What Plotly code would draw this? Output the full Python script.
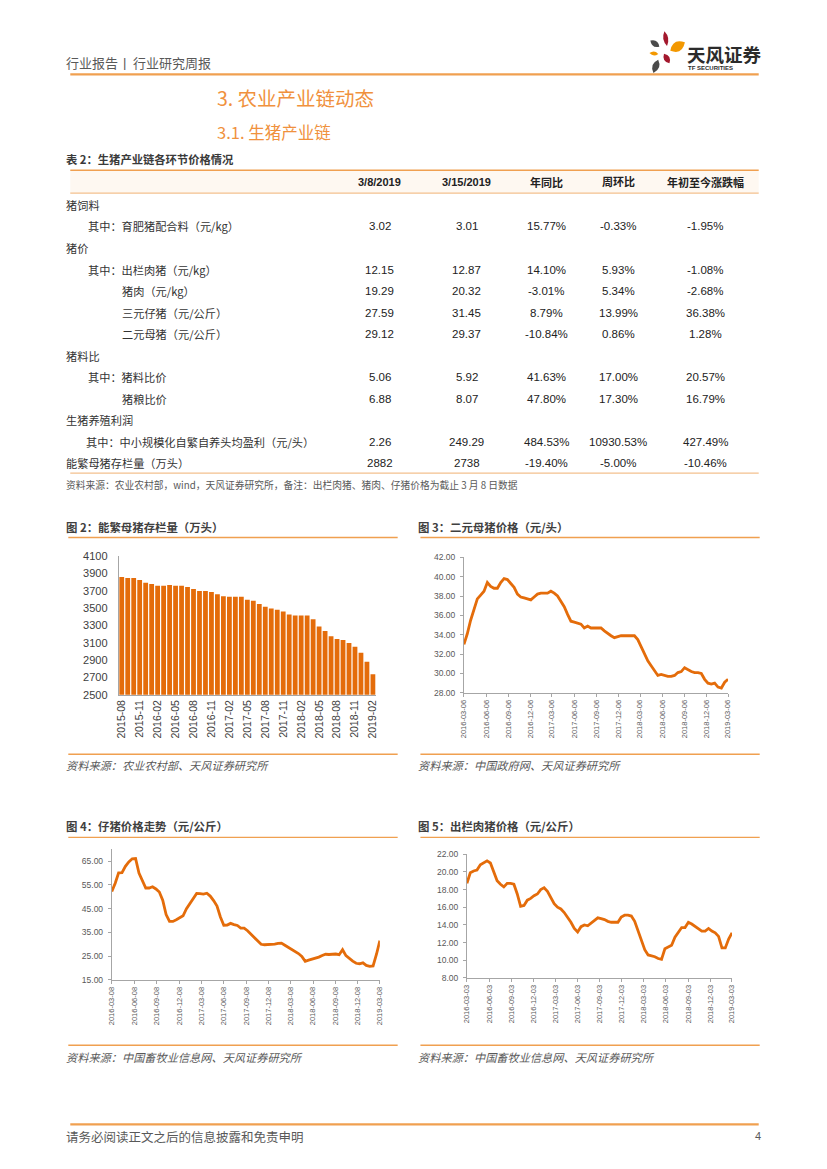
import math
import pandas as pd
import plotly.graph_objects as go

W, H = 827, 1169


def X(px):
    return px / W


def Y(py):
    return 1 - py / H


# ------------------------------------------------------------------ data
table_cols = ["3/8/2019", "3/15/2019", "年同比", "周环比", "年初至今涨跌幅"]
table_rows = ["猪饲料", "其中：育肥猪配合料（元/kg）", "猪价", "其中：出栏肉猪（元/kg）",
              "猪肉（元/kg）", "三元仔猪（元/公斤）", "二元母猪（元/公斤）", "猪料比",
              "其中：猪料比价", "猪粮比价", "生猪养殖利润",
              "其中：中小规模化自繁自养头均盈利（元/头）", "能繁母猪存栏量（万头）"]
row_level = [0, 1, 0, 1, 2, 2, 2, 0, 1, 2, 0, 1, 0]
col_0308 = ["", "3.02", "", "12.15", "19.29", "27.59", "29.12", "", "5.06", "6.88", "", "2.26", "2882"]
col_0315 = ["", "3.01", "", "12.87", "20.32", "31.45", "29.37", "", "5.92", "8.07", "", "249.29", "2738"]
col_yoy = ["", "15.77%", "", "14.10%", "-3.01%", "8.79%", "-10.84%", "", "41.63%", "47.80%", "", "484.53%", "-19.40%"]
col_wow = ["", "-0.33%", "", "5.93%", "5.34%", "13.99%", "0.86%", "", "17.00%", "17.30%", "", "10930.53%", "-5.00%"]
col_ytd = ["", "-1.95%", "", "-1.08%", "-2.68%", "36.38%", "1.28%", "", "20.57%", "16.79%", "", "427.49%", "-10.46%"]

# 图2 能繁母猪存栏量（万头）
sow_months = ["2015-08", "2015-09", "2015-10", "2015-11", "2015-12", "2016-01", "2016-02", "2016-03",
              "2016-04", "2016-05", "2016-06", "2016-07", "2016-08", "2016-09", "2016-10", "2016-11",
              "2016-12", "2017-01", "2017-02", "2017-03", "2017-04", "2017-05", "2017-06", "2017-07",
              "2017-08", "2017-09", "2017-10", "2017-11", "2017-12", "2018-01", "2018-02", "2018-03",
              "2018-04", "2018-05", "2018-06", "2018-07", "2018-08", "2018-09", "2018-10", "2018-11",
              "2018-12", "2019-01", "2019-02"]
sow_stock = [3860, 3848, 3848, 3825, 3794, 3779, 3760, 3760, 3768, 3760, 3760, 3745, 3722, 3700,
             3700, 3689, 3663, 3640, 3632, 3632, 3632, 3597, 3586, 3550, 3518, 3496, 3484, 3463,
             3429, 3417, 3417, 3417, 3372, 3290, 3236, 3178, 3145, 3133, 3100, 3055, 2985, 2882, 2738]
sow_ticks = ["2015-08", "2015-11", "2016-02", "2016-05", "2016-08", "2016-11", "2017-02", "2017-05",
             "2017-08", "2017-11", "2018-02", "2018-05", "2018-08", "2018-11", "2019-02"]

# 图3 二元母猪价格
gilt_start, gilt_end = "2016-03-06", "2019-03-06"
gilt_price = [33.0, 34.1, 35.5, 36.6, 37.7, 38.1, 38.5, 39.4, 39.0, 38.8, 38.8, 39.4, 39.8, 39.7,
              39.3, 38.9, 38.2, 37.9, 37.8, 37.7, 37.6, 37.9, 38.2, 38.3, 38.3, 38.3, 38.5, 38.3,
              38.0, 37.5, 36.9, 36.1, 35.4, 35.3, 35.2, 35.1, 34.7, 34.9, 34.7, 34.7, 34.7, 34.7,
              34.4, 34.1, 33.9, 33.7, 33.8, 33.9, 33.9, 33.9, 33.9, 33.9, 33.5, 32.8, 32.0, 31.3,
              30.8, 30.3, 29.8, 29.9, 29.8, 29.7, 29.7, 29.8, 30.1, 30.2, 30.6, 30.4, 30.2, 30.1,
              30.1, 30.0, 29.4, 29.0, 28.9, 29.0, 28.6, 28.5, 29.1, 29.4]
gilt_ticks = ["2016-03-06", "2016-06-06", "2016-09-06", "2016-12-06", "2017-03-06", "2017-06-06",
              "2017-09-06", "2017-12-06", "2018-03-06", "2018-06-06", "2018-09-06", "2018-12-06",
              "2019-03-06"]

# 图4 仔猪价格走势
piglet_start, piglet_end = "2016-03-08", "2019-03-08"
piglet_price = [52.2, 55.7, 60.1, 60.2, 62.8, 64.7, 66.0, 66.1, 60.0, 56.8, 53.7, 53.7, 54.2, 53.3,
                52.0, 48.6, 42.5, 39.6, 39.6, 40.3, 41.1, 42.0, 45.0, 47.1, 49.4, 51.4, 51.3, 51.1,
                51.5, 50.3, 48.4, 46.1, 41.5, 38.0, 38.1, 38.8, 38.3, 37.9, 36.8, 36.8, 35.7, 34.3,
                32.5, 31.1, 30.0, 29.8, 29.8, 29.8, 30.1, 30.4, 30.5, 29.6, 28.8, 28.0, 27.0, 26.1,
                24.9, 22.8, 23.3, 23.7, 24.0, 24.6, 25.3, 25.8, 25.7, 25.8, 25.9, 25.6, 27.7, 25.2,
                23.9, 22.9, 22.0, 21.8, 22.2, 21.1, 20.7, 20.9, 25.8, 31.5]
piglet_ticks = ["2016-03-08", "2016-06-08", "2016-09-08", "2016-12-08", "2017-03-08", "2017-06-08",
                "2017-09-08", "2017-12-08", "2018-03-08", "2018-06-08", "2018-09-08", "2018-12-08",
                "2019-03-08"]
piglet_yticks = [15, 25, 35, 45, 55, 65]

# 图5 出栏肉猪价格
hog_start, hog_end = "2016-03-03", "2019-03-03"
hog_price = [18.7, 19.9, 20.1, 20.2, 20.8, 21.05, 21.25, 21.0, 19.9, 19.0, 18.6, 18.3, 18.7, 18.7,
             18.6, 17.5, 16.1, 16.2, 16.8, 17.0, 17.3, 17.5, 18.0, 18.2, 17.8, 17.1, 16.4, 16.0,
             15.8, 15.4, 14.9, 14.3, 13.6, 13.2, 13.8, 14.0, 13.9, 14.2, 14.6, 14.8, 14.7, 14.6,
             14.4, 14.3, 14.3, 14.3, 14.9, 15.1, 15.1, 15.0, 14.4, 13.4, 12.2, 11.2, 10.6, 10.5,
             10.4, 10.2, 10.1, 11.3, 11.5, 11.7, 12.6, 13.1, 13.7, 13.7, 14.3, 14.1, 13.8, 13.6,
             13.3, 13.3, 13.6, 13.3, 13.1, 12.7, 11.4, 11.4, 12.4, 13.1]
hog_ticks = ["2016-03-03", "2016-06-03", "2016-09-03", "2016-12-03", "2017-03-03", "2017-06-03",
             "2017-09-03", "2017-12-03", "2018-03-03", "2018-06-03", "2018-09-03", "2018-12-03",
             "2019-03-03"]

# ------------------------------------------------------------------ style
ORANGE = "#E46C0A"
LINE_OR = "#F0A050"
PALE_OR = "#F3C08E"
GRAY_T = "#595959"
DARK_T = "#3A3A3A"
SANS = "Liberation Sans, Noto Sans CJK SC, sans-serif"
CJK = "Noto Sans CJK SC, Liberation Sans, sans-serif"
PAD = 6  # annotation box padding compensation

fig = go.Figure()
ann = []
shapes = []


def text(px, py, s, size=11, color=DARK_T, anchor="left", bold=False, italic=False, family=CJK):
    if bold:
        s = "<b>" + s + "</b>"
    if italic:
        s = "<i>" + s + "</i>"
    shift = {"left": -PAD, "right": PAD, "center": 0}[anchor]
    ann.append(dict(x=X(px), y=Y(py), xref="paper", yref="paper", text=s, showarrow=False,
                    xanchor=anchor, yanchor="middle", xshift=shift,
                    font=dict(size=size, color=color, family=family)))


def hline(x0, x1, py, color, width):
    shapes.append(dict(type="line", xref="paper", yref="paper", x0=X(x0), x1=X(x1), y0=Y(py), y1=Y(py),
                       line=dict(color=color, width=width)))


def leaf(cx, cy, length, width, angle_deg, color):
    a = math.radians(angle_deg)
    ux, uy = math.cos(a), math.sin(a)
    nx, ny = -uy, ux
    p1 = (cx - ux * length / 2, cy - uy * length / 2)
    p2 = (cx + ux * length / 2, cy + uy * length / 2)
    c1 = (cx + nx * width, cy + ny * width)
    c2 = (cx - nx * width, cy - ny * width)
    pts = [p1, c1, p2, c2]
    q = [(X(p[0]), Y(p[1])) for p in pts]
    path = "M {0[0]},{0[1]} Q {1[0]},{1[1]} {2[0]},{2[1]} Q {3[0]},{3[1]} {0[0]},{0[1]} Z".format(*q)
    shapes.append(dict(type="path", xref="paper", yref="paper", path=path, fillcolor=color,
                       line=dict(width=0)))


# ------------------------------------------------------------------ header
text(66, 57, "行业报告", size=13, color=GRAY_T)
text(123, 57, "|", size=13, color=GRAY_T, family=SANS)
text(133, 57, "行业研究周报", size=13, color=GRAY_T)
hline(66, 762, 69, LINE_OR, 2.2)
leaf(657, 38, 11, 6, 35, "#4A4A4A")
leaf(668, 33, 15, 5, 80, "#A3182D")
leaf(680, 41, 17, 10, -30, "#F39800")
leaf(656, 48, 9, 4, 5, "#F39800")
leaf(669, 53, 11, 6, 60, "#A3182D")
leaf(658, 61, 14, 7, 110, "#4A4A4A")
text(694, 49, "天风证券", size=18.5, color="#2B2B2B", bold=True)
text(695, 63, "TF SECURITIES", size=6, color="#2B2B2B", bold=True, family=SANS)

text(218, 92, "3. 农业产业链动态", size=19.5, color="#F0913D")
text(218, 127, "3.1. 生猪产业链", size=16.5, color="#F0913D")

# ------------------------------------------------------------------ table
text(66, 155, "表 2：生猪产业链各环节价格情况", size=11.3, color=DARK_T, bold=True)
shapes.append(dict(type="rect", xref="paper", yref="paper", x0=X(66), x1=X(762), y0=Y(189), y1=Y(166),
                   fillcolor="#FEF8F1", line=dict(width=0), layer="below"))
hline(66, 762, 166, LINE_OR, 1.6)
hline(66, 762, 189, PALE_OR, 1.2)
col_x = [379, 467, 547, 620, 708]
for cx, name in zip(col_x, table_cols):
    text(cx, 178, name, size=11, color="#222222", anchor="center", bold=True, family=SANS)
indent_x = {0: 66, 1: 88, 2: 122}
columns = [col_0308, col_0315, col_yoy, col_wow, col_ytd]
for i, label in enumerate(table_rows):
    ry = 201 + i * 21.75
    lx = indent_x[row_level[i]]
    if row_level[i] == 1 and len(label) > 16:
        lx = 86
    text(lx, ry, label, size=11.2, color="#333333")
    for cx, col in zip(col_x, columns):
        if col[i]:
            text(cx, ry, col[i], size=11.5, color="#222222", anchor="center", family=SANS)
hline(66, 762, 472, PALE_OR, 1.4)
text(66, 484, "资料来源：农业农村部，wind，天风证券研究所，备注：出栏肉猪、猪肉、仔猪价格为截止 3 月 8 日数据",
     size=9.75, color=GRAY_T)

# ------------------------------------------------------------------ chart frames
text(66, 526, "图 2：能繁母猪存栏量（万头）", size=11.4, color="#404040", bold=True)
text(422, 526, "图 3：二元母猪价格（元/头）", size=11.4, color="#404040", bold=True)
hline(64, 397, 537, LINE_OR, 1.4)
hline(420, 763, 537, LINE_OR, 1.4)
hline(64, 397, 756, LINE_OR, 1.4)
hline(420, 763, 756, LINE_OR, 1.4)
text(66, 767, "资料来源：农业农村部、天风证券研究所", size=11.2, color=GRAY_T, italic=True)
text(422, 767, "资料来源：中国政府网、天风证券研究所", size=11.2, color=GRAY_T, italic=True)

text(66, 829, "图 4：仔猪价格走势（元/公斤）", size=11.4, color="#404040", bold=True)
text(422, 829, "图 5：出栏肉猪价格（元/公斤）", size=11.4, color="#404040", bold=True)
hline(64, 397, 840, LINE_OR, 1.4)
hline(420, 763, 840, LINE_OR, 1.4)
hline(64, 397, 1050, LINE_OR, 1.4)
hline(420, 763, 1050, LINE_OR, 1.4)
text(66, 1062, "资料来源：中国畜牧业信息网、天风证券研究所", size=11.2, color=GRAY_T, italic=True)
text(422, 1062, "资料来源：中国畜牧业信息网、天风证券研究所", size=11.2, color=GRAY_T, italic=True)

# footer
hline(66, 762, 1130, LINE_OR, 2.2)
text(66, 1142, "请务必阅读正文之后的信息披露和免责申明", size=12.5, color=GRAY_T)
text(760, 1142, "4", size=11, color=GRAY_T, anchor="right", family=SANS)

# ------------------------------------------------------------------ traces
fig.add_trace(go.Bar(x=sow_months, y=sow_stock, marker=dict(color=ORANGE, line=dict(width=0)),
                     xaxis="x", yaxis="y", hoverinfo="skip"))
fig.add_trace(go.Scatter(x=pd.date_range(gilt_start, gilt_end, periods=len(gilt_price)), y=gilt_price,
                         mode="lines", line=dict(color=ORANGE, width=2.8), xaxis="x2", yaxis="y2",
                         hoverinfo="skip"))
fig.add_trace(go.Scatter(x=pd.date_range(piglet_start, piglet_end, periods=len(piglet_price)), y=piglet_price,
                         mode="lines", line=dict(color=ORANGE, width=2.8), xaxis="x3", yaxis="y3",
                         hoverinfo="skip"))
fig.add_trace(go.Scatter(x=pd.date_range(hog_start, hog_end, periods=len(hog_price)), y=hog_price,
                         mode="lines", line=dict(color=ORANGE, width=2.8), xaxis="x4", yaxis="y4",
                         hoverinfo="skip"))

AX = "#A6A6A6"
tickfont_small = dict(size=8.5, color=GRAY_T, family=SANS)
tickfont_x = dict(size=7.5, color=GRAY_T, family=SANS)

fig.update_layout(
    width=W, height=H, margin=dict(l=0, r=0, t=0, b=0), autosize=False,
    paper_bgcolor="white", plot_bgcolor="white", showlegend=False, bargap=0.2,
    annotations=ann, shapes=shapes,
    xaxis=dict(domain=[X(115), X(375)], type="category", tickmode="array", tickvals=sow_ticks,
               ticktext=sow_ticks, tickangle=-90, showline=True, linecolor=AX, linewidth=1,
               ticks="", showgrid=False, tickfont=dict(size=10.5, color="#404040", family=SANS),
               anchor="y", fixedrange=True),
    yaxis=dict(domain=[Y(696), Y(556)], range=[2500, 4100], tickmode="linear", tick0=2500, dtick=200,
               showline=True, linecolor=AX, linewidth=1, ticks="", showgrid=False, zeroline=False,
               tickfont=dict(size=11, color="#404040", family=SANS), ticklabelstandoff=8,
               anchor="x", fixedrange=True),
    xaxis2=dict(domain=[X(464), X(731)], type="date", range=[gilt_start, gilt_end], tickmode="array",
                tickvals=gilt_ticks, ticktext=gilt_ticks, tickangle=-90, showline=True, linecolor=AX,
                ticks="outside", ticklen=3, tickcolor=AX, showgrid=False, tickfont=tickfont_x,
                anchor="y2", fixedrange=True),
    yaxis2=dict(domain=[Y(694), Y(557)], range=[28, 42], tickmode="linear", tick0=28, dtick=2,
                tickformat=".2f", showline=True, linecolor=AX, ticks="outside", ticklen=3, tickcolor=AX,
                showgrid=False, zeroline=False, tickfont=tickfont_small, ticklabelstandoff=3,
                anchor="x2", fixedrange=True),
    xaxis3=dict(domain=[X(108), X(379)], type="date", range=[piglet_start, piglet_end], tickmode="array",
                tickvals=piglet_ticks, ticktext=piglet_ticks, tickangle=-90, showline=True, linecolor=AX,
                ticks="outside", ticklen=3, tickcolor=AX, showgrid=False, tickfont=tickfont_x,
                anchor="y3", fixedrange=True),
    yaxis3=dict(domain=[Y(984), Y(851.3)], range=[15, 70.3], tickmode="array", tickvals=piglet_yticks,
                tickformat=".2f", showline=True, linecolor=AX, ticks="outside", ticklen=3, tickcolor=AX,
                showgrid=False, zeroline=False, tickfont=tickfont_small, ticklabelstandoff=3,
                anchor="x3", fixedrange=True),
    xaxis4=dict(domain=[X(467), X(735)], type="date", range=[hog_start, hog_end], tickmode="array",
                tickvals=hog_ticks, ticktext=hog_ticks, tickangle=-90, showline=True, linecolor=AX,
                ticks="outside", ticklen=3, tickcolor=AX, showgrid=False, tickfont=tickfont_x,
                anchor="y4", fixedrange=True),
    yaxis4=dict(domain=[Y(982), Y(857)], range=[8, 22], tickmode="linear", tick0=8, dtick=2,
                tickformat=".2f", showline=True, linecolor=AX, ticks="outside", ticklen=3, tickcolor=AX,
                showgrid=False, zeroline=False, tickfont=tickfont_small, ticklabelstandoff=3,
                anchor="x4", fixedrange=True),
)

fig.write_html("out.html", config={"displayModeBar": False, "staticPlot": True},
               post_script="document.body.style.margin='0';")
